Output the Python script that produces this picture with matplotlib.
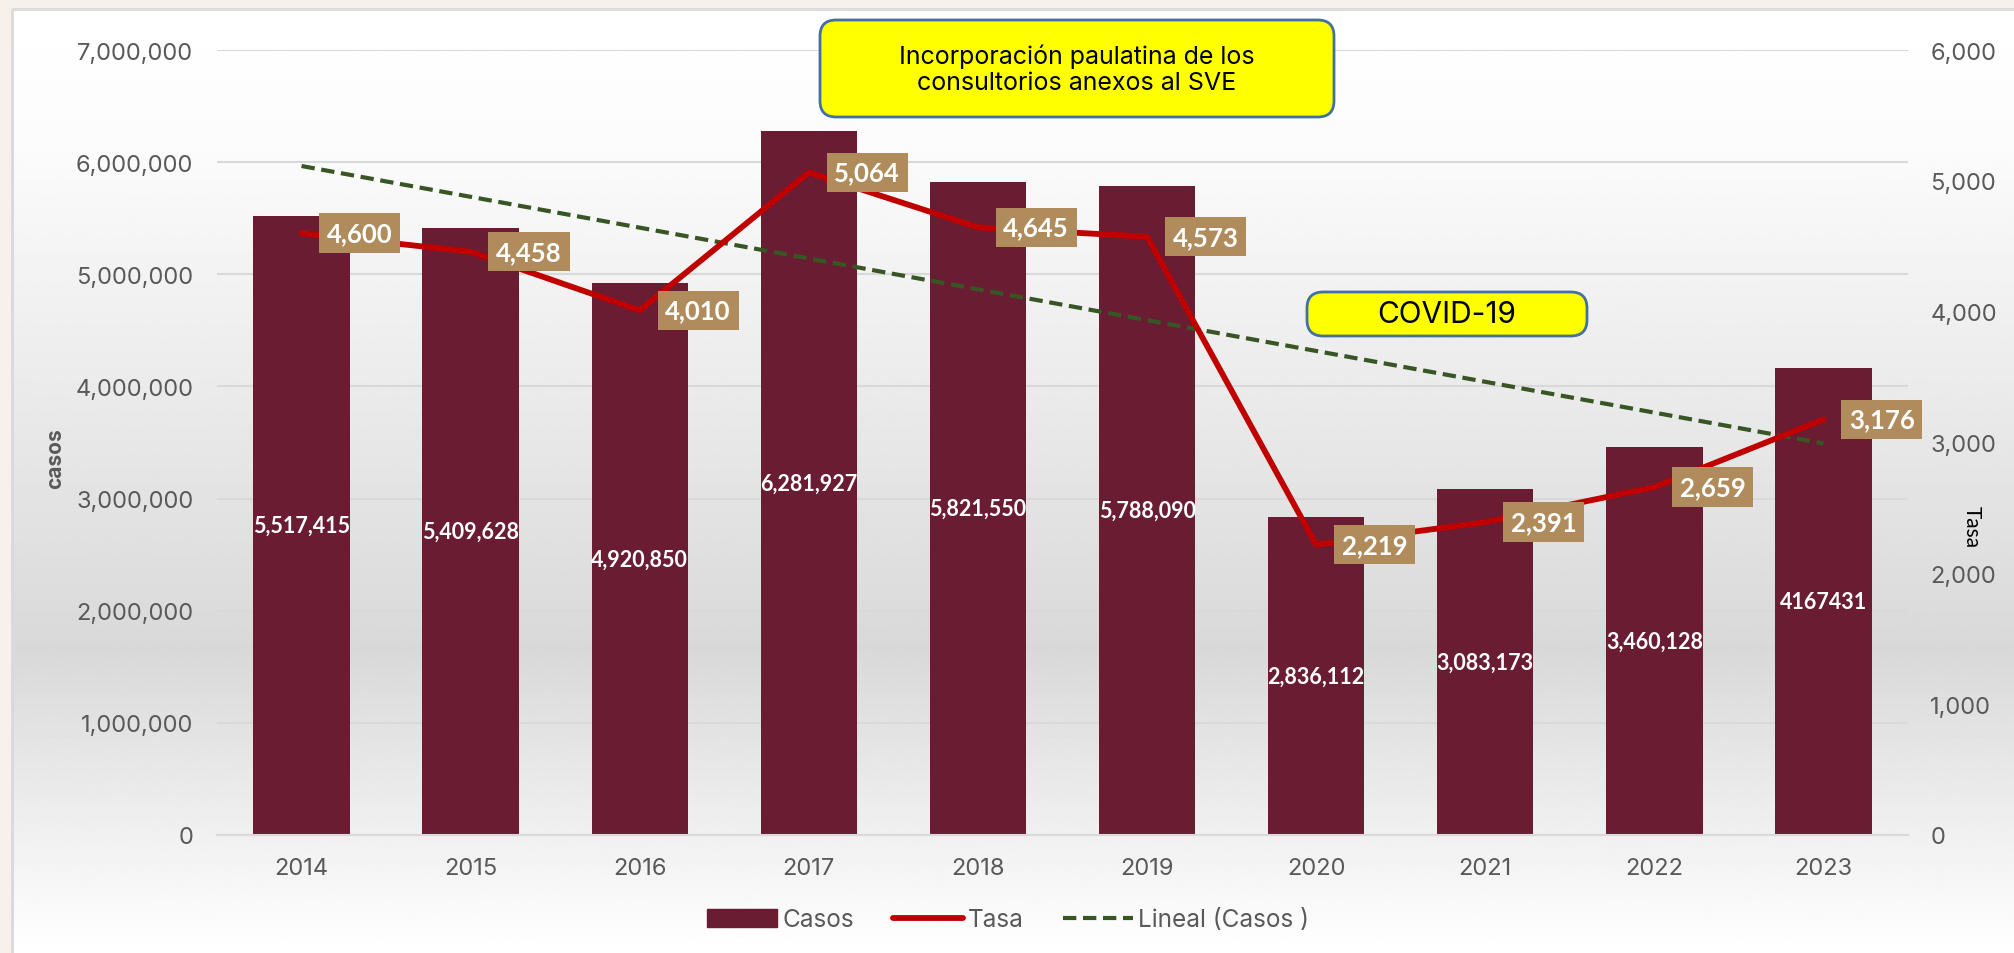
import numpy as np
import matplotlib
matplotlib.use("Agg")
import matplotlib.pyplot as plt
from matplotlib.patches import FancyBboxPatch, Rectangle, Patch
from matplotlib.lines import Line2D
from matplotlib.ticker import FuncFormatter, MultipleLocator

# datos
anios = ['2014', '2015', '2016', '2017', '2018', '2019', '2020', '2021', '2022', '2023']
casos = [5517415, 5409628, 4920850, 6281927, 5821550, 5788090, 2836112, 3083173, 3460128, 4167431]
etiquetas_casos = ['5,517,415', '5,409,628', '4,920,850', '6,281,927', '5,821,550',
                   '5,788,090', '2,836,112', '3,083,173', '3,460,128', '4167431']
tasa = [4600, 4458, 4010, 5064, 4645, 4573, 2219, 2391, 2659, 3176]

COLOR_BARRA = '#691C32'
COLOR_TASA = '#C00000'
COLOR_TEND = '#375623'
COLOR_CAJA = '#B08C5C'
COLOR_TICK = '#595959'
FUENTE = 'Inter'
FUENTE_B = 'Lato'

W, H = 2015, 954


def fx(px):
    return px / W


def fy(py):
    return 1 - py / H


def main():
    fig = plt.figure(figsize=(W / 100, H / 100), dpi=100)
    fig.patch.set_facecolor('#F6F1EA')

    # fondo degradado del area del grafico
    bg = fig.add_axes([0, 0, 1, 1], zorder=-10)
    bg.set_xlim(0, W)
    bg.set_ylim(H, 0)
    bg.axis('off')
    yy = np.linspace(10, H, 400)
    vals = np.interp(yy, [10, 150, 650, 954], [1.0, 0.985, 0.85, 1.0])
    grad = np.repeat(vals[:, None], 2, axis=1)
    bg.imshow(grad, cmap='gray', vmin=0, vmax=1, extent=[12, W, H, 10],
              aspect='auto', interpolation='bilinear')
    bg.add_patch(Rectangle((12, 10), W, H, fill=False, ec='#D9D9D9', lw=2))

    ax = fig.add_axes([fx(217), fy(836), fx(1908) - fx(217), fy(51) - fy(836)])
    ax.set_facecolor('none')
    x = np.arange(len(anios))

    bars = ax.bar(x, casos, width=0.57, color=COLOR_BARRA, zorder=2)
    ax.bar_label(bars, labels=etiquetas_casos, label_type='center', color='white',
                 fontsize=15.5, fontweight='bold', family=FUENTE_B)

    # tendencia lineal de casos
    m, b = np.polyfit(x, casos, 1)
    ax.plot(x, m * x + b, color=COLOR_TEND, lw=3, ls=(0, (3.2, 1.6)), zorder=3)

    ax.set_xlim(-0.5, len(anios) - 0.5)
    ax.set_ylim(0, 7000000)
    ax.yaxis.set_major_locator(MultipleLocator(1000000))
    ax.yaxis.set_major_formatter(FuncFormatter(lambda v, p: f'{int(v):,}'))
    ax.set_xticks(x)
    ax.set_xticklabels(anios)
    ax.grid(axis='y', color='#D9D9D9', lw=1.5, zorder=0)
    ax.set_axisbelow(True)
    for s in ['top', 'right', 'left']:
        ax.spines[s].set_visible(False)
    ax.spines['bottom'].set_color('#D9D9D9')
    ax.spines['bottom'].set_linewidth(1.5)
    ax.tick_params(axis='both', length=0, labelsize=17, colors=COLOR_TICK)
    ax.tick_params(axis='x', pad=16)
    ax.tick_params(axis='y', pad=17)
    for t in ax.get_xticklabels() + ax.get_yticklabels():
        t.set_family(FUENTE)

    ax2 = ax.twinx()
    ax2.set_ylim(0, 6000)
    ax2.yaxis.set_major_locator(MultipleLocator(1000))
    ax2.yaxis.set_major_formatter(FuncFormatter(lambda v, p: f'{int(v):,}'))
    for s in ax2.spines.values():
        s.set_visible(False)
    ax2.tick_params(axis='y', length=0, labelsize=17, colors=COLOR_TICK, pad=16)
    for t in ax2.get_yticklabels():
        t.set_family(FUENTE)

    ax2.plot(x, tasa, color=COLOR_TASA, lw=4.2, zorder=4, solid_capstyle='round')
    for xi, v in zip(x, tasa):
        ax2.annotate(f'{v:,}', (xi, v), xytext=(42, 0), textcoords='offset points',
                     ha='center', va='center', color='white', fontsize=18.5,
                     fontweight='bold', family=FUENTE_B, zorder=5,
                     bbox=dict(boxstyle='square,pad=0.3', fc=COLOR_CAJA, ec='none'))

    fig.text(fx(55), fy(459), 'casos', rotation=90, ha='center', va='center',
             fontsize=15, fontweight='bold', color=COLOR_TICK, family=FUENTE)
    fig.text(fx(1972), fy(527), 'Tasa', rotation=-90, ha='center', va='center',
             fontsize=15, color='black', family=FUENTE_B)

    # cuadros de texto amarillos
    for (x0, y0, x1, y1, txt, fs) in [
            (820, 21, 1334, 118, 'Incorporación paulatina de los\nconsultorios anexos al SVE', 18),
            (1307, 293, 1587, 337, 'COVID-19', 21.5)]:
        caja = FancyBboxPatch((fx(x0), fy(y1)), fx(x1) - fx(x0), fy(y0) - fy(y1),
                              boxstyle='round,pad=0,rounding_size=0.008',
                              transform=fig.transFigure, fc='#FFFF00', ec='#41719C',
                              lw=2, zorder=20, mutation_aspect=W / H)
        fig.add_artist(caja)
        fig.text(fx((x0 + x1) / 2), fy((y0 + y1) / 2), txt, ha='center', va='center',
                 fontsize=fs, family=FUENTE, color='black', zorder=21, linespacing=1.15)

    handles = [Patch(color=COLOR_BARRA),
               Line2D([], [], color=COLOR_TASA, lw=4.2, solid_capstyle='round'),
               Line2D([], [], color=COLOR_TEND, lw=3, ls=(0, (3.2, 1.6)))]
    leg = fig.legend(handles, ['Casos', 'Tasa', 'Lineal (Casos )'], loc='center',
                     bbox_to_anchor=(fx(1008), fy(921)), ncol=3, frameon=False,
                     handlelength=2.9, handletextpad=0.2, columnspacing=1.6,
                     prop={'family': FUENTE, 'size': 17.5})
    for t in leg.get_texts():
        t.set_color(COLOR_TICK)

    fig.savefig('out.png', dpi=100)


if __name__ == '__main__':
    main()
